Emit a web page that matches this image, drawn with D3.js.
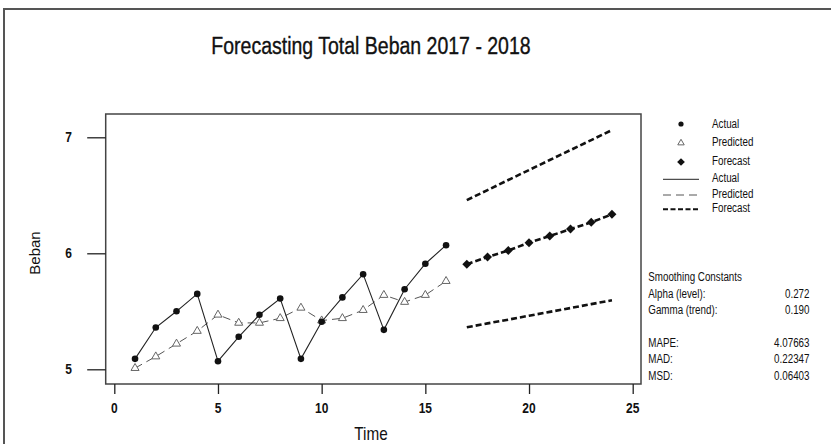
<!DOCTYPE html>
<html><head><meta charset="utf-8">
<script src="https://cdn.jsdelivr.net/npm/d3@7"></script>
<style>body{margin:0;background:#fff}svg{display:block}text{font-family:"Liberation Sans",Arial,sans-serif;fill:#111}</style>
</head><body><svg id="c" width="831" height="444"></svg>
<script>
const title = "Forecasting Total Beban 2017 - 2018";
const timeActual = [1,2,3,4,5,6,7,8,9,10,11,12,13,14,15,16];
const actual = [5.09,5.36,5.50,5.65,5.07,5.28,5.47,5.61,5.09,5.41,5.62,5.82,5.34,5.69,5.91,6.07];
const predicted = [5.01,5.11,5.22,5.33,5.47,5.40,5.40,5.44,5.53,5.42,5.44,5.51,5.64,5.58,5.64,5.76];
const timeForecast = [17,18,19,20,21,22,23,24];
const forecast = [5.905,5.968,6.024,6.091,6.149,6.209,6.267,6.336];
const upper = [6.459,6.545,6.632,6.718,6.804,6.890,6.976,7.062];
const lower = [5.362,5.396,5.428,5.462,5.495,5.528,5.562,5.595];
const xTicks = [0,5,10,15,20,25];
const yTicks = [5,6,7];
const legendLabels = ["Actual","Predicted","Forecast"];
const statLabels = ["Smoothing Constants","Alpha (level):","Gamma (trend):","","MAPE:","MAD:","MSD:"];
const statValues = ["","0.272","0.190","","4.07663","0.22347","0.06403"];

const svg = d3.select("#c");
const x = d3.scaleLinear().domain([0,25]).range([114.3,632.7]);
const y = d3.scaleLinear().domain([5,7]).range([369.3,137.3]);
const SY = 1.25;
function stext(g, tx, ty, str, size, anchor, weight){
  return g.append("text").attr("transform",`translate(${tx},${ty}) scale(1,${SY})`)
    .attr("font-size",size).attr("text-anchor",anchor||"start")
    .attr("font-weight",weight||"normal").text(str);
}
// outer frame
svg.append("path").attr("d","M4,444 V9 H831").attr("fill","none").attr("stroke","#555").attr("stroke-width",2);
// title
stext(svg, 371, 54, title, 19.5, "middle").attr("stroke","#111").attr("stroke-width",0.3);
// plot box
svg.append("rect").attr("x",105.7).attr("y",114).attr("width",641-105.7).attr("height",384-114)
  .attr("fill","none").attr("stroke","#444").attr("stroke-width",1.5);
// x axis
const xa = svg.append("g").attr("transform","translate(0,384)")
  .call(d3.axisBottom(x).tickValues(xTicks).tickSize(10).tickFormat(d3.format("d")));
xa.select(".domain").remove();
xa.selectAll("line").attr("stroke","#222").attr("stroke-width",1.3);
xa.selectAll("text").remove();
xTicks.forEach(t=>stext(svg, x(t), 413, String(t), 12, "middle", "bold"));
// y axis
const ya = svg.append("g").attr("transform","translate(105.7,0)")
  .call(d3.axisLeft(y).tickValues(yTicks).tickSize(18.5));
ya.select(".domain").remove();
ya.selectAll("line").attr("stroke","#222").attr("stroke-width",1.3);
ya.selectAll("text").remove();
yTicks.forEach(t=>stext(svg, 72, y(t)+5, String(t), 12, "end", "bold"));
// axis titles
stext(svg, 371, 440, "Time", 15.3, "middle");
svg.append("text").attr("transform","translate(40,253) rotate(-90)").attr("font-size",15)
  .attr("text-anchor","middle").text("Beban");

const line = d3.line().x(d=>x(d[0])).y(d=>y(d[1]));
const aPts = timeActual.map((t,i)=>[t,actual[i]]);
const pPts = timeActual.map((t,i)=>[t,predicted[i]]);
const fPts = timeForecast.map((t,i)=>[t,forecast[i]]);
const uPts = timeForecast.map((t,i)=>[t,upper[i]]);
const lPts = timeForecast.map((t,i)=>[t,lower[i]]);

svg.append("path").attr("d",line(pPts)).attr("fill","none").attr("stroke","#555").attr("stroke-width",1).attr("stroke-dasharray","8,5");
svg.append("path").attr("d",line(aPts)).attr("fill","none").attr("stroke","#222").attr("stroke-width",1.1);
[fPts,uPts,lPts].forEach(p=>svg.append("path").attr("d",line(p)).attr("fill","none").attr("stroke","#111").attr("stroke-width",2.6).attr("stroke-dasharray","6,3"));

const tri = d3.symbol().type(d3.symbolTriangle).size(28);
const dia = d3.symbol().type(d3.symbolSquare).size(40);
svg.selectAll(".tri").data(pPts).join("path").attr("d",tri)
  .attr("transform",d=>`translate(${x(d[0])},${y(d[1])})`).attr("fill","#fff").attr("stroke","#666").attr("stroke-width",1);
svg.selectAll(".dot").data(aPts).join("circle").attr("cx",d=>x(d[0])).attr("cy",d=>y(d[1])).attr("r",3.3).attr("fill","#111");
svg.selectAll(".dia").data(fPts).join("path").attr("d",dia)
  .attr("transform",d=>`translate(${x(d[0])},${y(d[1])}) rotate(45)`).attr("fill","#111");

// legend
const lg = svg.append("g");
lg.append("circle").attr("cx",681).attr("cy",124).attr("r",2.6).attr("fill","#111");
lg.append("path").attr("d",d3.symbol().type(d3.symbolTriangle).size(18)).attr("transform","translate(681,143)").attr("fill","#fff").attr("stroke","#666");
lg.append("path").attr("d",d3.symbol().type(d3.symbolSquare).size(30)).attr("transform","translate(681,162) rotate(45)").attr("fill","#111");
lg.append("line").attr("x1",663).attr("x2",699).attr("y1",179.3).attr("y2",179.3).attr("stroke","#222").attr("stroke-width",1);
lg.append("line").attr("x1",663).attr("x2",699).attr("y1",195).attr("y2",195).attr("stroke","#555").attr("stroke-width",1).attr("stroke-dasharray","8,5");
lg.append("line").attr("x1",663).attr("x2",699).attr("y1",209.3).attr("y2",209.3).attr("stroke","#111").attr("stroke-width",2).attr("stroke-dasharray","5,2.5");
const lys = [127.5,145.5,164.5,182,198,212];
[0,1,2,0,1,2].forEach((k,i)=>stext(lg, 712, lys[i], legendLabels[k], 9.8, "start"));
// stats
const sys = [280.5,297.5,313.5,330,346.5,362.5,379.5];
statLabels.forEach((s,i)=>{ if(s) stext(svg, 648.3, sys[i], s, 9.8, "start"); });
statValues.forEach((s,i)=>{ if(s) stext(svg, 809.5, sys[i], s, 9.8, "end"); });
</script></body></html>
